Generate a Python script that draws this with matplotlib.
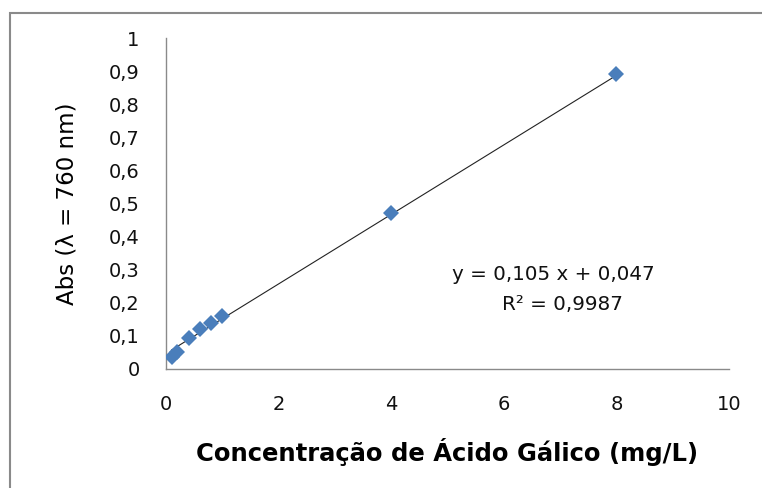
import numpy as np
import matplotlib.pyplot as plt
from matplotlib.patches import Rectangle

# Curva de calibração - ácido gálico
conc = [0.1, 0.2, 0.4, 0.6, 0.8, 1.0, 4.0, 8.0]
absorb = [0.036, 0.05, 0.095, 0.12, 0.14, 0.16, 0.47, 0.89]
slope = 0.105
intercept = 0.047
r2_text = "0,9987"

x_ticks = [0, 2, 4, 6, 8, 10]
y_ticks = [0, 0.1, 0.2, 0.3, 0.4, 0.5, 0.6, 0.7, 0.8, 0.9, 1]

plt.rcParams["font.family"] = "DejaVu Sans"

fig = plt.figure(figsize=(7.62, 4.88), dpi=100)
fig.patch.set_facecolor("white")

# outer chart border
fig.add_artist(Rectangle((10 / 762, -0.1), 1.2, 1 - 13 / 488 + 0.1,
                         transform=fig.transFigure, fill=False,
                         edgecolor="#8a8a8a", linewidth=1.5))

ax = fig.add_axes([166 / 762, 1 - 369 / 488, (729 - 166) / 762, (369 - 38) / 488])

# linear trendline over the data range
xs = np.array([min(conc), max(conc)])
ax.plot(xs, slope * xs + intercept, color="#222222", linewidth=0.8, zorder=2)
ax.plot(conc, absorb, linestyle="none", marker="D", markersize=8.5,
        color="#4a7ebb", markeredgewidth=0, zorder=3)

ax.set_xlim(0, 10)
ax.set_ylim(0, 1)
ax.set_xticks(x_ticks)
ax.set_yticks(y_ticks)
ax.set_xticklabels([str(t) for t in x_ticks])
ax.set_yticklabels([("%g" % t).replace(".", ",") for t in y_ticks])

for side in ["top", "right"]:
    ax.spines[side].set_visible(False)
for side in ["left", "bottom"]:
    ax.spines[side].set_color("#8a8a8a")
    ax.spines[side].set_linewidth(1.0)

ax.tick_params(length=0, labelsize=14, colors="#111111")
ax.tick_params(axis="y", pad=19)
ax.tick_params(axis="x", pad=19)

ax.set_xlabel("Concentração de Ácido Gálico (mg/L)", fontweight="bold", fontsize=17.5)
ax.xaxis.label.set_va("center")
ax.xaxis.set_label_coords(0.5, (369 - 452) / 331)
ax.set_ylabel("Abs (λ = 760 nm)", fontsize=16.5)
ax.yaxis.label.set_va("center")
ax.yaxis.set_label_coords((67 - 166) / 563, 0.5)

eq = "y = %s x + %s" % (("%g" % slope).replace(".", ","), ("%.3f" % intercept).replace(".", ","))
ax.text((452 - 166) / 563, (369 - 275) / 331, eq, transform=ax.transAxes,
        ha="left", va="center", fontsize=14.3, color="#111111")
ax.text((502 - 166) / 563, (369 - 304) / 331, "R² = " + r2_text, transform=ax.transAxes,
        ha="left", va="center", fontsize=14.3, color="#111111")

fig.savefig("out.png", dpi=100)
